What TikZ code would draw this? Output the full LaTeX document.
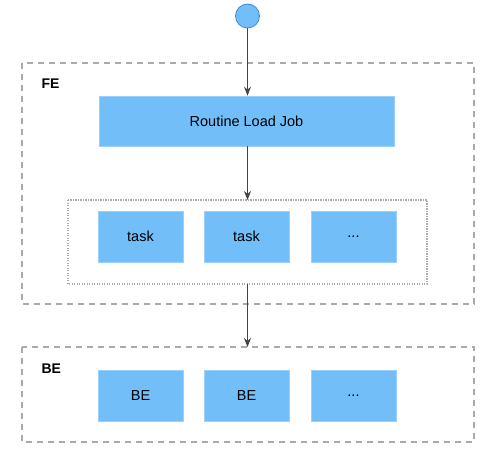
\documentclass[tikz,border=0pt]{standalone}
\usepackage{fontspec}
\setmainfont{Liberation Sans}
\usetikzlibrary{arrows.meta}
\definecolor{boxblue}{HTML}{72BEF8}
\definecolor{boxedge}{HTML}{9CD0FA}
\definecolor{circedge}{HTML}{3C8CD6}
\definecolor{dashgray}{HTML}{AAAAAA}
\definecolor{linegray}{HTML}{444444}
\begin{document}
\begin{tikzpicture}[x=1pt,y=-1pt,
  bluebox/.style={draw=boxedge,fill=boxblue,line width=0.6pt,inner sep=0pt,font=\fontsize{14.5}{17}\selectfont},
  groupbox/.style={draw=dashgray,line width=1.2pt,dash pattern=on 6pt off 5pt},
  dotbox/.style={draw=dashgray,line width=1.2pt,dash pattern=on 1.2pt off 1.3pt},
  grouplabel/.style={font=\bfseries\fontsize{14}{16}\selectfont,anchor=west},
  conn/.style={draw=linegray,line width=0.9pt,-{Stealth[length=9pt,width=7pt]}}]
\useasboundingbox (0,0) rectangle (492,449);
% groups
\draw[groupbox] (22,63) rectangle (474,304);
\node[grouplabel] (fe) at (38,84) {FE};
\draw[dotbox] (68,200) rectangle (427,284);
\coordinate (dotbottom) at (247.5,284);
\coordinate (dottop) at (247.5,200);
\draw[groupbox] (22,347) rectangle (474,442);
\node[grouplabel] (be) at (38,369) {BE};
\coordinate (betop) at (247.5,347);
% start circle
\node[circle,draw=circedge,fill=boxblue,line width=0.8pt,minimum size=24pt,inner sep=0pt] (start) at (247.5,16) {};
% nodes
\node[bluebox,minimum width=295pt,minimum height=50pt] (job) at (246.5,121) {Routine Load Job};
\node[bluebox,minimum width=85pt,minimum height=51pt] (t1) at (140.5,236.5) {task};
\node[bluebox,minimum width=85pt,minimum height=51pt] (t2) at (246.5,236.5) {task};
\node[bluebox,minimum width=85pt,minimum height=51pt] (t3) at (353.5,236.5) {...};
\node[bluebox,minimum width=85pt,minimum height=51pt] (b1) at (140.5,396) {BE};
\node[bluebox,minimum width=85pt,minimum height=51pt] (b2) at (246.5,396) {BE};
\node[bluebox,minimum width=85pt,minimum height=51pt] (b3) at (353.5,396) {...};
% connectors
\draw[conn] (start.south) -- (job.north -| start.south);
\draw[conn] (job.south -| dottop) -- (dottop);
\draw[conn] (dotbottom) -- (betop);
\end{tikzpicture}
\end{document}
